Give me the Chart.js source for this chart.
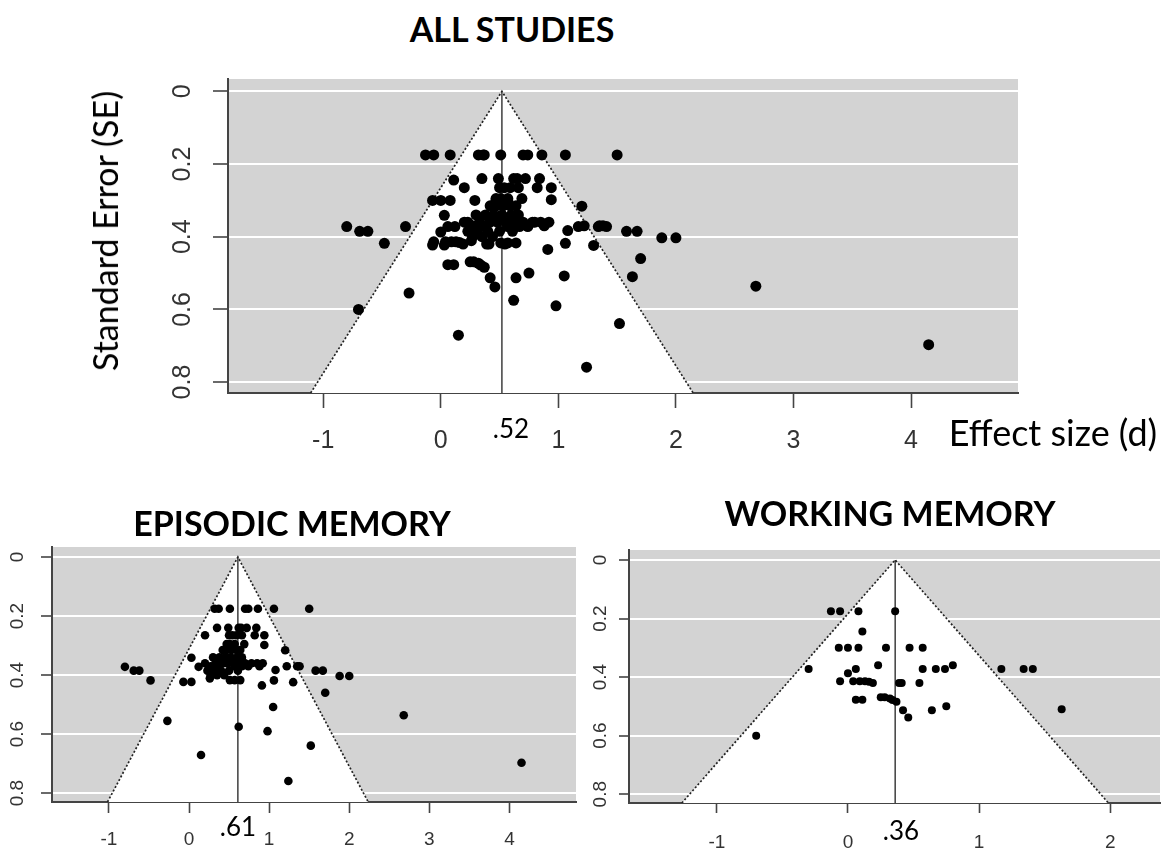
<!DOCTYPE html>
<html>
<head>
<meta charset="utf-8">
<script src="https://cdn.jsdelivr.net/npm/chart.js@4.4.1/dist/chart.umd.min.js"></script>
<style>
  body { margin: 0; width: 1169px; height: 854px; background: #fff; position: relative; overflow: hidden; font-family: Lato, "Open Sans", sans-serif; }
  canvas { position: absolute; }
  .lbl { position: absolute; white-space: nowrap; color: #000; transform: translate(-50%, -50%); line-height: 1; }
  .title { font-weight: bold; }
</style>
</head>
<body>
<canvas id="allChart" width="970" height="400" style="left:60px; top:60px;"></canvas>
<canvas id="emChart" width="590" height="320" style="left:0px; top:530px;"></canvas>
<canvas id="wmChart" width="589" height="320" style="left:580px; top:530px;"></canvas>

<div class="lbl title" style="left:512px; top:29px; font-size:34px;">ALL STUDIES</div>
<div class="lbl title" style="left:292px; top:523px; font-size:34px;">EPISODIC MEMORY</div>
<div class="lbl title" style="left:890px; top:513px; font-size:34px;">WORKING MEMORY</div>
<div class="lbl" style="left:105px; top:231px; font-size:34px; transform: translate(-50%, -50%) rotate(-90deg);">Standard Error (SE)</div>
<div class="lbl" style="left:1053px; top:432px; font-size:36px;">Effect size (d)</div>
<div class="lbl" style="left:511px; top:428px; font-size:26px;">.52</div>
<div class="lbl" style="left:238px; top:826px; font-size:26px;">.61</div>
<div class="lbl" style="left:901px; top:830px; font-size:26px;">.36</div>

<script>
// pooled estimates (d)
const allEstimate = 0.52;
const emEstimate = 0.61;
const wmEstimate = 0.36;

// standard error axis
const seLimits = [-0.034, 0.83];
const seTicks = [0, 0.2, 0.4, 0.6, 0.8];
const seTickLabels = ['0', '0.2', '0.4', '0.6', '0.8'];

// effect size ticks
const allTicks = [-1, 0, 1, 2, 3, 4];
const emTicks = [-1, 0, 1, 2, 3, 4];
const wmTicks = [-1, 0, 1, 2];

// episodic memory studies
const emD = [
    0.32, 0.37, 0.51, 0.70, 0.74, 0.86, 1.06, 1.50,
    0.35, 0.49, 0.62, 0.65, 0.72, 0.84,
    0.20, 0.50, 0.54, 0.59, 0.66, 0.82, 0.94,
    0.47, 0.51, 0.57, 0.69, 0.94,
    0.42, 0.47, 0.53, 0.59, 0.64, 1.20,
    0.03, 0.30, 0.38, 0.45, 0.52, 0.60, 0.66,
    0.20, 0.33, 0.42, 0.48, 0.55, 0.62, 0.70, 0.78, 0.85, 0.92,
    -0.80, 0.12, 0.27, 0.37, 0.57, 0.66, 0.74, 0.88, 1.22, 1.35, 1.38,
    -0.69, -0.62, 0.23, 0.31, 0.40, 0.50, 0.61, 1.08, 1.58, 1.67,
    0.27, 0.35, 0.44, 1.88, 2.00,
    -0.48, -0.07, 0.03, 0.26, 0.51, 0.57, 0.64, 1.06, 1.30,
    0.91, 1.70, 1.05, -0.27, 0.62, 0.98, 1.52, 0.15, 1.24, 2.68, 4.15
];
const emSE = [
    0.175, 0.175, 0.175, 0.175, 0.175, 0.175, 0.175, 0.175,
    0.24, 0.24, 0.24, 0.24, 0.24, 0.24,
    0.265, 0.265, 0.265, 0.265, 0.265, 0.265, 0.265,
    0.295, 0.295, 0.295, 0.295, 0.298,
    0.315, 0.315, 0.315, 0.315, 0.315, 0.316,
    0.341, 0.34, 0.34, 0.34, 0.34, 0.34, 0.34,
    0.36, 0.36, 0.36, 0.36, 0.36, 0.36, 0.36, 0.36, 0.36, 0.36,
    0.372, 0.372, 0.37, 0.37, 0.37, 0.37, 0.37, 0.37, 0.37, 0.37, 0.37,
    0.385, 0.385, 0.385, 0.385, 0.385, 0.385, 0.385, 0.383, 0.385, 0.385,
    0.40, 0.40, 0.40, 0.403, 0.403,
    0.418, 0.423, 0.423, 0.411, 0.417, 0.417, 0.417, 0.418, 0.424,
    0.435, 0.46, 0.508, 0.555, 0.575, 0.59, 0.639, 0.671, 0.759, 0.536, 0.697
];

// working memory studies
const wmD = [
    -0.13, -0.06, 0.08, 0.36,
    0.11,
    -0.07, 0.00, 0.08, 0.29, 0.47, 0.57,
    0.23, 0.80,
    -0.30, 0.06, 0.57, 0.67, 0.74, 1.17, 1.34, 1.41,
    0.00,
    -0.06, 0.04, 0.09, 0.13, 0.16, 0.19, 0.39, 0.41, 0.545,
    0.06, 0.11,
    0.25, 0.28, 0.32, 0.34, 0.37, 0.42, 0.46,
    0.64, 0.75, 1.63,
    -0.70
];
const wmSE = [
    0.175, 0.175, 0.175, 0.175,
    0.244,
    0.30, 0.30, 0.30, 0.30, 0.30, 0.30,
    0.36, 0.36,
    0.372, 0.372, 0.372, 0.372, 0.372, 0.372, 0.372, 0.372,
    0.387,
    0.414, 0.414, 0.414, 0.414, 0.416, 0.42, 0.42, 0.42, 0.42,
    0.477, 0.477,
    0.469, 0.469, 0.473, 0.478, 0.484, 0.513, 0.538,
    0.513, 0.50, 0.51,
    0.60
];

const toPoints = (d, se) => d.map((v, i) => ({ x: v, y: se[i] }));
const emPoints = toPoints(emD, emSE);
const wmPoints = toPoints(wmD, wmSE);
const allPoints = emPoints.concat(wmPoints);

// grey panel behind the funnel
const panelBackground = {
    id: 'panelBackground',
    beforeDraw(chart) {
        const { ctx, chartArea: a } = chart;
        ctx.save();
        ctx.fillStyle = '#d3d3d3';
        ctx.fillRect(a.left, a.top, a.right - a.left, a.bottom - a.top);
        ctx.restore();
    }
};

function funnelChart(id, o) {
    const yMax = seLimits[1];
    const edge = 1.96 * yMax;
    const tickFont = { family: '"Liberation Sans", Arial, sans-serif', size: o.fontSize };
    return new Chart(document.getElementById(id), {
        type: 'scatter',
        data: {
            datasets: [
                {
                    data: o.points,
                    pointRadius: o.r,
                    pointHoverRadius: o.r,
                    backgroundColor: '#000',
                    borderWidth: 0
                },
                {
                    type: 'line',
                    data: [{ x: o.est, y: 0 }, { x: o.est, y: yMax }],
                    borderColor: '#222',
                    borderWidth: 1.3,
                    pointRadius: 0,
                    fill: false
                },
                {
                    type: 'line',
                    data: [{ x: o.est - edge, y: yMax }, { x: o.est, y: 0 }, { x: o.est + edge, y: yMax }],
                    borderColor: '#222',
                    borderWidth: 1.7,
                    borderDash: [2, 2],
                    pointRadius: 0,
                    backgroundColor: '#fff',
                    fill: { value: yMax }
                }
            ]
        },
        options: {
            responsive: false,
            animation: false,
            events: [],
            layout: { padding: o.pad },
            plugins: { legend: { display: false }, tooltip: { enabled: false } },
            scales: {
                x: {
                    type: 'linear',
                    min: o.xMin,
                    max: o.xMax,
                    afterBuildTicks: s => { s.ticks = o.xTicks.map(v => ({ value: v })); },
                    afterFit: s => { s.height = o.xH; s.paddingLeft = 0; s.paddingRight = 0; },
                    grid: { drawOnChartArea: false, tickLength: o.tl, tickColor: '#444', tickWidth: 1.6 },
                    border: { color: '#444', width: 2 },
                    ticks: { font: tickFont, color: '#333', padding: o.xPad, callback: v => String(v) }
                },
                y: {
                    type: 'linear',
                    reverse: true,
                    min: seLimits[0],
                    max: seLimits[1],
                    afterBuildTicks: s => { s.ticks = seTicks.map(v => ({ value: v })); },
                    afterFit: s => { s.width = o.yW; s.paddingTop = 0; s.paddingBottom = 0; },
                    grid: { color: '#fff', lineWidth: 2, tickLength: o.tl, tickColor: '#444', tickWidth: 1.6 },
                    border: { color: '#444', width: 2 },
                    ticks: {
                        font: tickFont,
                        color: '#333',
                        padding: o.yPad,
                        minRotation: 90,
                        maxRotation: 90,
                        crossAlign: 'center',
                        callback: (v, i) => seTickLabels[i]
                    }
                }
            }
        },
        plugins: [panelBackground]
    });
}

funnelChart('allChart', {
    points: allPoints, est: allEstimate, xTicks: allTicks, xMin: -1.81, xMax: 4.91,
    r: 5.5, fontSize: 25, tl: 15, xPad: 18, yPad: 13, yW: 168, xH: 67,
    pad: { top: 19, right: 12, bottom: 0, left: 0 }
});

funnelChart('emChart', {
    points: emPoints, est: emEstimate, xTicks: emTicks, xMin: -1.71, xMax: 4.83,
    r: 4.3, fontSize: 19, tl: 11, xPad: 15, yPad: 10, yW: 52, xH: 48,
    pad: { top: 17, right: 14, bottom: 0, left: 0 }
});

funnelChart('wmChart', {
    points: wmPoints, est: wmEstimate, xTicks: wmTicks, xMin: -1.67, xMax: 2.38,
    r: 4, fontSize: 19, tl: 10, xPad: 18, yPad: 5, yW: 49, xH: 47,
    pad: { top: 20, right: 9, bottom: 0, left: 0 }
});
</script>
</body>
</html>
